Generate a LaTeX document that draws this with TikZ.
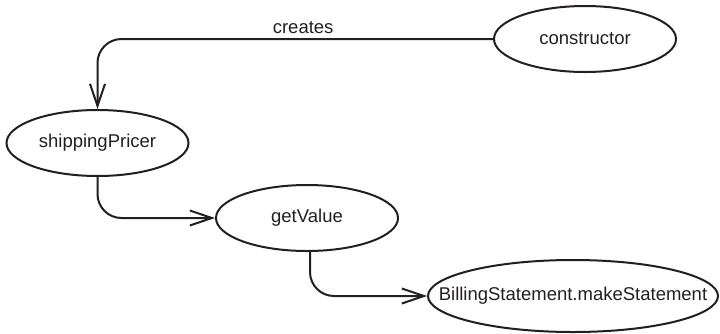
\documentclass[tikz,border=0pt]{standalone}
\usepackage{fontspec}
\setmainfont{Liberation Sans}
\usepackage{xcolor}
\usetikzlibrary{shapes.geometric, arrows.meta, positioning}

\definecolor{inkdark}{RGB}{35,31,32}

\tikzset{
  callnode/.style={ellipse, draw=inkdark, line width=2pt, inner sep=0pt,
    minimum width=182pt, minimum height=66pt, text=inkdark,
    font=\fontsize{18.5}{22}\selectfont},
  callflow/.style={draw=inkdark, line width=2pt, rounded corners=24pt,
    -{Straight Barb[length=22pt, width=15pt]}}
}

\begin{document}
\begin{tikzpicture}[x=1pt, y=1pt]

\useasboundingbox (0,0) rectangle (720,-333);

\node[callnode] (ctor)    at (585,-39)  {constructor};
\node[callnode] (pricer)  at (97.5,-143) {shippingPricer};
\node[callnode] (getval)  at (307,-218) {getValue};
\node[callnode, minimum width=290pt, minimum height=72pt] (billing) at (573,-296)
  {\makebox[0pt]{BillingStatement.makeStatement}};

\draw[callflow] (ctor.west) -| (pricer.north)
  node[pos=0.24, above=1pt, text=inkdark, font=\fontsize{18.5}{22}\selectfont] (lblcreates) {creates};
\draw[callflow] (pricer.south) |- (getval.west);
\draw[callflow] ([xshift=3pt]getval.south) |- (billing.west);

\end{tikzpicture}
\end{document}
